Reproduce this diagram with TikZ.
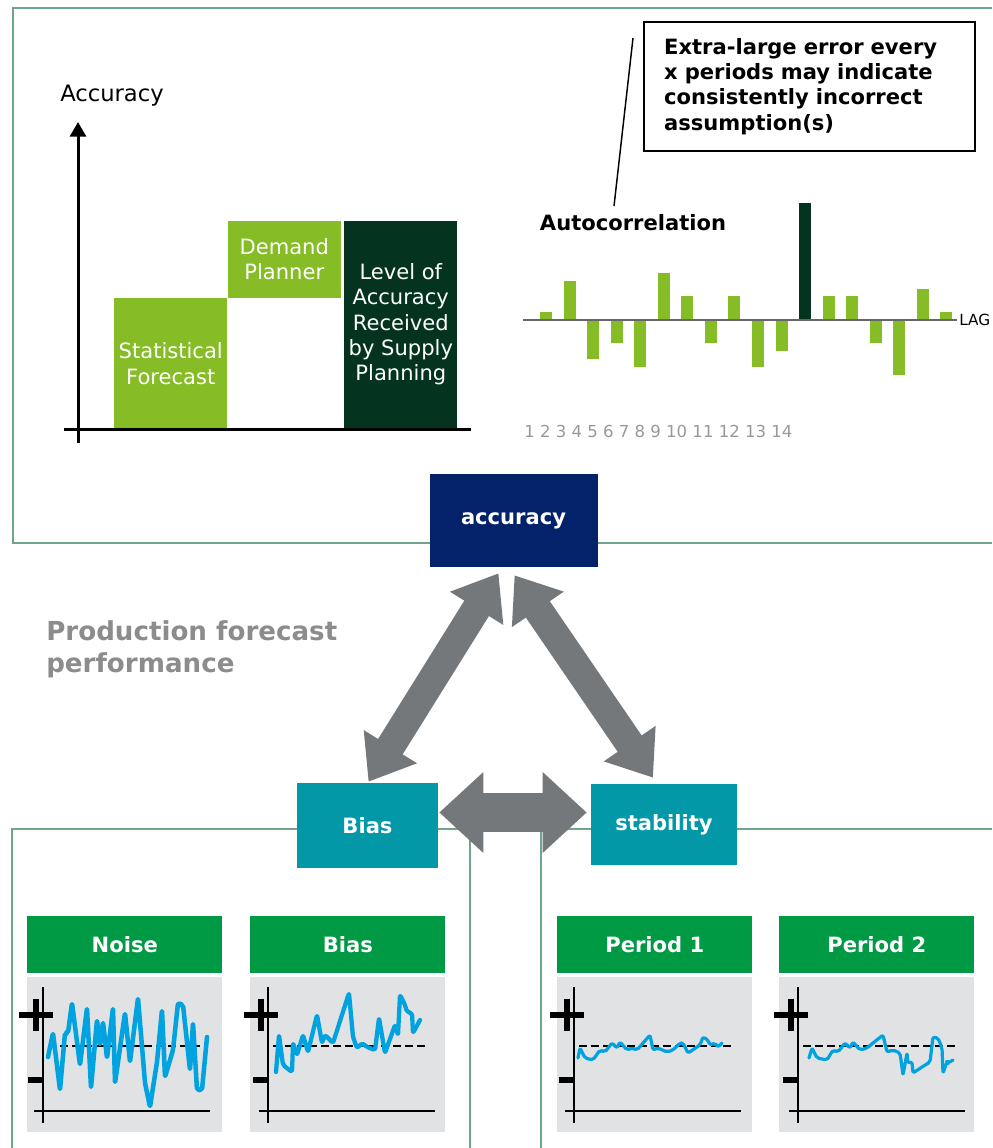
\documentclass[tikz,border=0pt]{standalone}
\usepackage{fontspec}
\setmainfont{DejaVu Sans}
\usepackage{tikz}
\usetikzlibrary{arrows.meta,positioning,calc}
\definecolor{framegreen}{HTML}{6FA58A}
\definecolor{lightgreen}{HTML}{86BC25}
\definecolor{darkgreen}{HTML}{043420}
\definecolor{navybox}{HTML}{03226A}
\definecolor{tealbox}{HTML}{0398A8}
\definecolor{arrowgray}{HTML}{75787B}
\definecolor{headgreen}{HTML}{009A44}
\definecolor{plotgray}{HTML}{E1E2E4}
\definecolor{curveblue}{HTML}{00A3E0}
\definecolor{labelgray}{HTML}{8C8C8C}

\begin{document}
\begin{tikzpicture}[x=0.75pt,y=-0.75pt,
		frame/.style={draw=framegreen, line width=0.9pt},
		barbox/.style={minimum width=84.75pt, inner sep=0pt, text=white, align=center, font=\fontsize{15.8}{19}\selectfont},
		topic/.style={inner sep=0pt, text=white, font=\bfseries\fontsize{15.8}{19}\selectfont},
		twoway/.style={draw=arrowgray, line width=#1},
		head/.style={fill=headgreen, minimum width=146.25pt, minimum height=42.75pt, inner sep=0pt, text=white, font=\bfseries\fontsize{15.8}{19}\selectfont},
		plotbg/.style={fill=plotgray, minimum width=146.25pt, minimum height=116.25pt, inner sep=0pt},
		axisline/.style={line width=1.8pt},
		sign/.style={line width=3.8pt},
		curve/.style={draw=curveblue, line join=round, line cap=round, rounded corners=1.5pt, line width=#1}]
		\useasboundingbox (0,0) rectangle (992,1148);
		\draw[frame] (992,8) -- (13,8) -- (13,543) -- (992,543);
		\draw[frame] (12,1148) -- (12,829) -- (992,829);
		\draw[frame] (470,829) -- (470,1148) (541,829) -- (541,1148);
		\node at (112,96) [font=\fontsize{17}{20}\selectfont] (acclabel) {Accuracy};
		\node at (114,298) [barbox, anchor=north west, fill=lightgreen, minimum height=98.25pt] (sf) {Statistical\\Forecast};
		\node at (sf.north east) [barbox, anchor=south west, fill=lightgreen, minimum height=57.75pt] (dp) {Demand\\Planner};
		\node at ($(dp.north east)+(3,0)$) [barbox, anchor=north west, fill=darkgreen, minimum height=155.25pt] (lvl) {Level of\\Accuracy\\Received\\by Supply\\Planning};
		\draw[line width=2.25pt, -{Triangle[length=11pt,width=12pt]}] (78,443) -- (78,122);
		\draw[line width=2.25pt] (64,429) -- (471,429);
		\node at (643,21) [anchor=north west, draw, line width=1.5pt, minimum width=248.25pt, minimum height=96.75pt, inner xsep=15pt, text width=218pt, align=left, font=\bfseries\fontsize{15.8}{19}\selectfont] (note) {Extra-large error every\\x periods may indicate\\consistently incorrect\\assumption(s)};
		\node at (633,223) [font=\bfseries\fontsize{15.8}{19}\selectfont] (autoc) {Autocorrelation};
		\coordinate (pin) at (633,38);
		\draw[line width=1.1pt] (pin) -- ($(autoc.north)+(-19,-4)$);
		\foreach \v/\c [count=\i] in {8/lightgreen,39/lightgreen,-39/lightgreen,-23/lightgreen,-47/lightgreen,47/lightgreen,24/lightgreen,-23/lightgreen,24/lightgreen,-47/lightgreen,-31/lightgreen,117/darkgreen,24/lightgreen,24/lightgreen,-23/lightgreen,-55/lightgreen,31/lightgreen,8/lightgreen}
			\fill[\c] (540+23.55*\i-23.55,320) rectangle ++(12,-\v);
		\draw[draw=black!60, line width=1.8pt] (523,320) -- (957,320);
		\node at (959,320) [anchor=west, inner sep=0pt, font=\fontsize{11.5}{13}\selectfont] (lag) {LAG};
		\node at (524,431) [anchor=west, inner sep=0pt, text=black!40, font=\fontsize{12.4}{14}\selectfont] (lags) {1 2 3 4 5 6 7 8 9 10 11 12 13 14};
		\node at (46,649) [anchor=west, inner sep=0pt, align=left, text=labelgray, font=\bfseries\fontsize{19.6}{24}\selectfont] (pfp) {Production forecast\\performance};
		\node at (513.5,520.5) [topic, fill=navybox, minimum width=126pt, minimum height=69.75pt] (acc) {accuracy};
		\node at (367.5,825.5) [topic, fill=tealbox, minimum width=105.75pt, minimum height=63.75pt] (bias) {Bias};
		\node at (664,824.5) [topic, fill=tealbox, minimum width=109.5pt, minimum height=60.75pt] (stab) {stability};
		\draw[twoway=21.75pt, {Triangle[length=31pt,width=45pt]}-{Triangle[length=31pt,width=45pt]}] ($(acc.south)+(-15,6)$) -- ($(bias.north)+(1,-1)$);
		\draw[twoway=21.75pt, {Triangle[length=31pt,width=45pt]}-{Triangle[length=31pt,width=45pt]}] ($(acc.south)+(1,8)$) -- ($(stab.north)+(-11,-6)$);
		\draw[twoway=29.25pt, {Triangle[length=33pt,width=58.5pt]}-{Triangle[length=33pt,width=58.5pt]}] ($(bias.east)+(1,-13)$) -- ($(stab.west)+(-4,-12)$);
		\foreach \x/\ax/\t in {27/43/Noise,250/268/Bias,557/574/Period 1,779/798/Period 2} {
			\node at (\x,916) [head, anchor=north west] (h\x) {\t};
			\node at (\x,977) [plotbg, anchor=north west] (p\x) {};
			\draw[axisline] (\ax,987) -- (\ax,1123) (\ax-9,1111) -- (\ax+167,1111);
			\draw[sign] (\ax-24,1015) -- (\ax+10,1015) (\ax-7,999) -- (\ax-7,1031) (\ax-15,1080) -- (\ax,1080);
			\draw[line width=1.5pt, dash pattern=on 6pt off 3pt] (\ax+5,1046) -- (\ax+159,1046);
		}
		\draw[curve=3.4pt] (48,1057) -- (53,1033) -- (60,1090) -- (65,1033) -- (68,1033) -- (72,1003) -- (80,1065) -- (87,1008) -- (91,1088) -- (97,1020) -- (100,1045) -- (103,1022) -- (107,1058) -- (113,1008) -- (115,1083) -- (125,1013) -- (130,1062) -- (138,998) -- (145,1083) -- (150,1107) -- (157,1062) -- (162,1010) -- (165,1077) -- (173,1050) -- (178,1003) -- (183,1005) -- (190,1070) -- (193,1023) -- (197,1090) -- (202,1090) -- (207,1037);
		\draw[curve=3.2pt] (276,1072) -- (279,1035) -- (283,1065) -- (292,1072) -- (293,1043) -- (297,1055) -- (303,1035) -- (308,1052) -- (317,1015) -- (322,1043) -- (325,1035) -- (333,1043) -- (349,993) -- (353,1037) -- (357,1048) -- (362,1043) -- (367,1047) -- (375,1050) -- (379,1018) -- (385,1053) -- (395,1025) -- (398,1035) -- (400,995) -- (405,1005) -- (407,1012) -- (412,1013) -- (413,1033) -- (420,1020);
		\draw[curve=2.4pt] (578,1058) -- (580,1048) -- (585,1058) -- (593,1060) -- (600,1050) -- (605,1052) -- (612,1043) -- (617,1048) -- (620,1042) -- (627,1050) -- (632,1048) -- (637,1050) -- (650,1035) -- (653,1050) -- (658,1048) -- (667,1052) -- (673,1050) -- (680,1043) -- (683,1043) -- (688,1053) -- (700,1045) -- (703,1037) -- (708,1040) -- (710,1045) -- (715,1043) -- (718,1047) -- (722,1043);
		\draw[curve=2.4pt] (809,1058) -- (812,1048) -- (817,1058) -- (827,1060) -- (833,1050) -- (838,1052) -- (845,1043) -- (850,1048) -- (853,1042) -- (860,1050) -- (867,1048) -- (873,1043) -- (883,1035) -- (887,1052) -- (893,1050) -- (900,1053) -- (903,1075) -- (907,1053) -- (908,1063) -- (912,1062) -- (913,1073) -- (922,1067) -- (930,1062) -- (933,1037) -- (938,1038) -- (942,1048) -- (943,1073) -- (947,1062) -- (948,1063) -- (953,1060);
\end{tikzpicture}
\end{document}
